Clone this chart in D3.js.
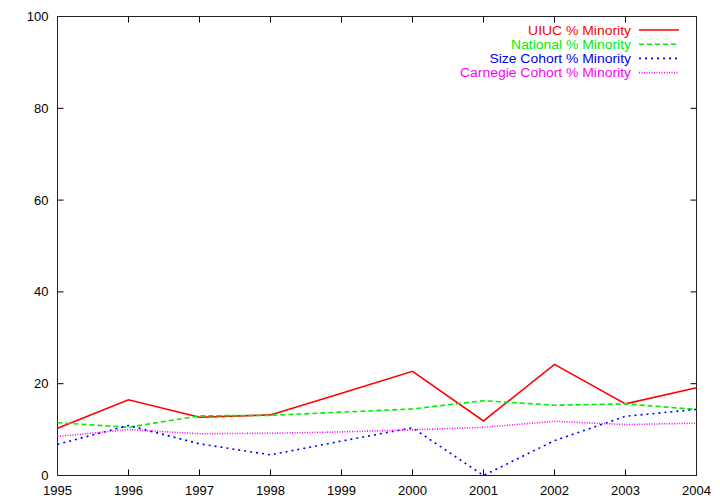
<!DOCTYPE html>
<html><head><meta charset="utf-8">
<script src="https://cdn.jsdelivr.net/npm/d3@7"></script>
<style>body{margin:0;background:#fff}svg{display:block}text{font-family:"Liberation Sans",Arial,sans-serif;font-size:13px}</style>
</head><body><svg id="c" width="720" height="504"></svg>
<script>
const years = [1995,1996,1997,1998,1999,2000,2001,2002,2003,2004];
const uiuc = [10.3,16.5,12.7,13.2,17.9,22.7,11.9,24.2,15.6,19.1];
const national = [11.5,10.5,13.0,13.1,13.8,14.5,16.3,15.3,15.6,14.4];
const sizeCohort = [6.8,10.9,6.9,4.5,7.5,10.4,0.0,7.6,12.9,14.4];
const carnegie = [8.5,10.0,9.1,9.2,9.5,9.95,10.5,11.8,11.1,11.4];
const yTicks = [0,20,40,60,80,100];
const seriesNames = ["UIUC % Minority","National % Minority","Size Cohort % Minority","Carnegie Cohort % Minority"];

const svg = d3.select("#c");
const L=57.5,R=696.5,T=16.5,B=475.5;
const x = d3.scaleLinear().domain([1995,2004]).range([L,R]);
const y = d3.scaleLinear().domain([0,100]).range([B,T]);
const tk=6;
const g = svg.append("g");
yTicks.forEach(v=>{
  g.append("line").attr("x1",L).attr("x2",L+tk).attr("y1",y(v)).attr("y2",y(v)).attr("stroke","#000");
  g.append("line").attr("x1",R).attr("x2",R-tk).attr("y1",y(v)).attr("y2",y(v)).attr("stroke","#000");
  g.append("text").attr("x",L-9).attr("y",y(v)+4.5).attr("text-anchor","end").text(v);
});
years.forEach(v=>{
  g.append("line").attr("x1",x(v)).attr("x2",x(v)).attr("y1",B).attr("y2",B-tk).attr("stroke","#000");
  g.append("line").attr("x1",x(v)).attr("x2",x(v)).attr("y1",T).attr("y2",T+tk).attr("stroke","#000");
  g.append("text").attr("x",x(v)).attr("y",B+19.5).attr("text-anchor","middle").text(v);
});
g.append("rect").attr("x",L).attr("y",T).attr("width",R-L).attr("height",B-T).attr("fill","none").attr("stroke","#222");

const styles = [
  {data:uiuc,color:"#ff0000",dash:null},
  {data:national,color:"#00ee00",dash:"5,3"},
  {data:sizeCohort,color:"#0000ff",dash:"2,4"},
  {data:carnegie,color:"#ff00ff",dash:"1,1.5"}
];
const line = d3.line().x((d,i)=>x(years[i])).y(d=>y(d));
styles.forEach((s,k)=>{
  svg.append("path").attr("d",line(s.data)).attr("fill","none").attr("stroke",s.color)
    .attr("stroke-width",1.6).attr("stroke-dasharray",s.dash);
  const ly = 30 + k*14.2;
  const t = svg.append("text").attr("x",631).attr("y",ly+4.5).attr("text-anchor","end").attr("fill",s.color)
    .style("font-size","12px").text(seriesNames[k]);
  const w = t.node().getComputedTextLength();
  t.attr("textLength", w*1.16).attr("lengthAdjust","spacingAndGlyphs");
  svg.append("line").attr("x1",639).attr("x2",679).attr("y1",ly).attr("y2",ly)
    .attr("stroke",s.color).attr("stroke-width",1.6).attr("stroke-dasharray",s.dash);
});
</script></body></html>
